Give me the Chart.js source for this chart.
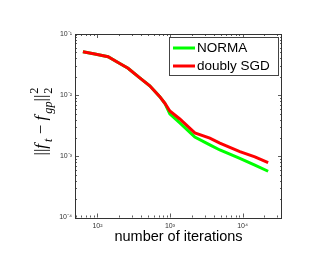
<!DOCTYPE html>
<html>
<head>
<meta charset="utf-8">
<script src="https://cdn.jsdelivr.net/npm/chart.js@4.4.0/dist/chart.umd.min.js"></script>
<style>
  html, body { margin: 0; padding: 0; background: #fff; }
  canvas { display: block; }
</style>
</head>
<body>
<canvas id="errChart" width="316" height="263"></canvas>
<script>
// values
const iterations = [63, 92, 140, 203, 264, 383, 526, 723, 848, 994, 1365, 2198, 3540, 4865, 9180, 14790, 22540];
const normaErr = [0.0514, 0.0471, 0.0426, 0.0330, 0.0275, 0.0192, 0.0142, 0.00945, 0.00738, 0.00493, 0.00351, 0.00207, 0.00154, 0.00127, 0.00093, 0.00072, 0.00057];
const doublyErr = [0.0514, 0.0471, 0.0426, 0.0330, 0.0275, 0.0192, 0.0142, 0.00945, 0.00738, 0.00552, 0.00408, 0.00241, 0.00198, 0.00164, 0.00119, 0.00098, 0.00079];
const seriesNames = ['NORMA', 'doubly SGD'];
const seriesColors = ['#00ff00', '#ff0000'];
const xTickValues = [100, 1000, 10000];
const yTickValues = [1e-4, 1e-3, 1e-2, 1e-1];
const xLabel = 'number of iterations';

const supMap = { '-': '\u207B', '0': '\u2070', '1': '\u00B9', '2': '\u00B2', '3': '\u00B3', '4': '\u2074' };
function powLabel(v) {
    const e = String(Math.round(Math.log10(v)));
    return '10' + e.split('').map(c => supMap[c]).join('');
}

function toPoints(xs, ys) {
    return xs.map((x, i) => ({ x: x, y: ys[i] }));
}

// matlab style box, inward ticks, legend and y label
const matlabFrame = {
    id: 'matlabFrame',
    afterDatasetsDraw(chart) {
        const ctx = chart.ctx;
        const a = chart.chartArea;
        const xs = chart.scales.x, ys = chart.scales.y;
        ctx.save();
        ctx.strokeStyle = '#333';
        ctx.lineWidth = 1;
        ctx.strokeRect(Math.round(a.left) + 0.5, Math.round(a.top) + 0.5,
            Math.round(a.right - a.left) - 1, Math.round(a.bottom - a.top));

        ctx.lineWidth = 0.8;
        ctx.beginPath();
        for (let d = 1; d <= 4; d++) {
            for (let m = 1; m <= 9; m++) {
                const v = m * Math.pow(10, d);
                if (v < xs.min || v > xs.max) continue;
                const px = Math.round(xs.getPixelForValue(v)) + 0.5;
                const len = m === 1 ? 4 : 2;
                ctx.moveTo(px, a.bottom); ctx.lineTo(px, a.bottom - len);
                ctx.moveTo(px, a.top); ctx.lineTo(px, a.top + len);
            }
        }
        for (let d = -4; d <= -1; d++) {
            for (let m = 1; m <= 9; m++) {
                const v = m * Math.pow(10, d);
                if (v < ys.min * 0.999 || v > ys.max * 1.001) continue;
                const py = Math.round(ys.getPixelForValue(v)) + 0.5;
                const len = m === 1 ? 4 : 2;
                ctx.moveTo(a.left, py); ctx.lineTo(a.left + len, py);
                ctx.moveTo(a.right, py); ctx.lineTo(a.right - len, py);
            }
        }
        ctx.stroke();

        // legend box
        const lx = 169, ly = 37, lw = 109, lh = 38;
        ctx.fillStyle = '#fff';
        ctx.fillRect(lx, ly, lw, lh);
        ctx.strokeStyle = '#444';
        ctx.lineWidth = 1;
        ctx.strokeRect(lx + 0.5, ly + 0.5, lw, lh);
        ctx.font = '13.5px "Liberation Sans", Arial, sans-serif';
        ctx.textBaseline = 'middle';
        seriesNames.forEach((name, i) => {
            const y = 48 + i * 18;
            ctx.strokeStyle = seriesColors[i];
            ctx.lineWidth = 3;
            ctx.beginPath();
            ctx.moveTo(173, y); ctx.lineTo(195, y);
            ctx.stroke();
            ctx.fillStyle = '#000';
            ctx.fillText(name, 197, y + 0.5);
        });

        // y label  ||f_t - f_gp||_2^2
        const S = 17;
        const big = 'italic ' + S + 'px "Liberation Serif", serif';
        const bigUp = S + 'px "Liberation Serif", serif';
        const small = 'italic ' + (S * 0.72) + 'px "Liberation Serif", serif';
        const smallUp = (S * 0.72) + 'px "Liberation Serif", serif';
        const parts = [
            { t: '||', f: bigUp, dy: 0 },
            { t: 'f', f: big, dy: 0, gap: 2 },
            { t: 't', f: small, dy: 0.35 * S },
            { t: ' \u2212 ', f: bigUp, dy: 0 },
            { t: 'f', f: big, dy: 0, gap: 2 },
            { t: 'gp', f: small, dy: 0.35 * S },
            { t: '||', f: bigUp, dy: 0 },
        ];
        let total = 0;
        parts.forEach(p => { ctx.font = p.f; p.w = ctx.measureText(p.t).width + (p.gap || 0); total += p.w; });
        ctx.font = smallUp;
        const w2 = ctx.measureText('2').width;
        total += w2;
        ctx.translate(41, 122);
        ctx.rotate(-Math.PI / 2);
        ctx.fillStyle = '#000';
        ctx.textBaseline = 'alphabetic';
        let cx = -total / 2;
        const base = 0.3 * S;
        parts.forEach(p => {
            ctx.font = p.f;
            ctx.fillText(p.t, cx, base + p.dy);
            cx += p.w;
        });
        ctx.font = smallUp;
        ctx.fillText('2', cx + 1, base - 0.5 * S);
        ctx.fillText('2', cx + 1, base + 0.35 * S);
        ctx.restore();
    }
};

const ctx = document.getElementById('errChart').getContext('2d');
new Chart(ctx, {
    type: 'line',
    data: {
        datasets: [
            {
                label: seriesNames[0],
                data: toPoints(iterations, normaErr),
                borderColor: seriesColors[0],
                borderWidth: 3,
                pointRadius: 0,
                order: 2
            },
            {
                label: seriesNames[1],
                data: toPoints(iterations, doublyErr),
                borderColor: seriesColors[1],
                borderWidth: 3,
                pointRadius: 0,
                order: 1
            }
        ]
    },
    options: {
        responsive: false,
        animation: false,
        layout: { padding: { left: 0, top: 34, right: 34, bottom: 17 } },
        plugins: { legend: { display: false }, tooltip: { enabled: false } },
        scales: {
            x: {
                type: 'logarithmic',
                min: 49,
                max: 35000,
                afterBuildTicks: s => { s.ticks = xTickValues.map(v => ({ value: v })); },
                afterFit: s => { s.height = 28.5; },
                grid: { display: false, drawTicks: false },
                border: { display: false },
                ticks: {
                    callback: v => powLabel(v),
                    font: { size: 7, family: '"Liberation Sans", Arial, sans-serif' },
                    color: '#333',
                    padding: 4,
                    maxRotation: 0,
                    autoSkip: false
                },
                title: {
                    display: true,
                    text: xLabel,
                    color: '#000',
                    padding: 0,
                    font: { size: 14.5, family: '"Liberation Sans", Arial, sans-serif' }
                }
            },
            y: {
                type: 'logarithmic',
                min: 1e-4,
                max: 1e-1,
                afterBuildTicks: s => { s.ticks = yTickValues.map(v => ({ value: v })); },
                afterFit: s => { s.width = 75; },
                grid: { display: false, drawTicks: false },
                border: { display: false },
                ticks: {
                    callback: v => powLabel(v),
                    font: { size: 7, family: '"Liberation Sans", Arial, sans-serif' },
                    color: '#333',
                    padding: 3,
                    autoSkip: false
                }
            }
        }
    },
    plugins: [matlabFrame]
});
</script>
</body>
</html>
